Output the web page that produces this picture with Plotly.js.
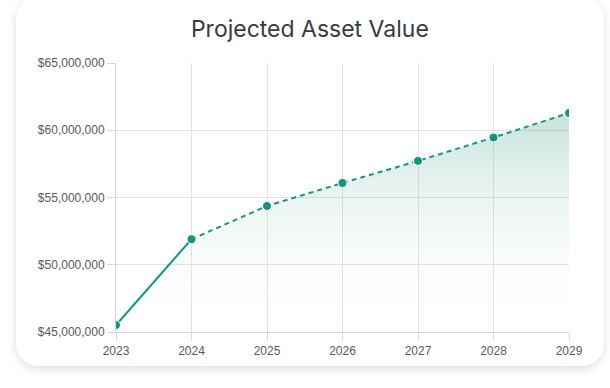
<!DOCTYPE html>
<html>
<head>
<meta charset="utf-8">
<script src="https://cdn.plot.ly/plotly-3.0.1.min.js"></script>
<style>
  html, body { margin:0; padding:0; background:#ffffff; width:610px; height:388px; overflow:hidden; }
  #card { position:absolute; left:16px; top:-4px; width:588px; height:370px; background:#fff;
          border-radius:22px; box-shadow:0 3px 10px rgba(0,0,0,0.13); }
  #chart { position:absolute; left:0; top:0; width:610px; height:388px; }
</style>
</head>
<body>
<div id="card"></div>
<div id="chart"></div>
<script>
const years = [2023, 2024, 2025, 2026, 2027, 2028, 2029];
const values = [45520000, 51900000, 54370000, 56080000, 57720000, 59460000, 61280000];
const actualYears = years.slice(0, 2);
const actualValues = values.slice(0, 2);
const projYears = years.slice(1);
const projValues = values.slice(1);
const yTicks = [45000000, 50000000, 55000000, 60000000, 65000000];

const lineColor = '#0f987c';

const traces = [
  {
    x: years, y: values, type: 'scatter', mode: 'none',
    fill: 'tozeroy',
    fillgradient: { type: 'vertical', start: 45000000, stop: 62000000,
      colorscale: [[0, 'rgba(255,255,255,0)'], [1, 'rgba(20,135,105,0.26)']] },
    hoverinfo: 'skip', showlegend: false
  },
  {
    x: actualYears, y: actualValues, type: 'scatter', mode: 'lines+markers',
    line: { color: lineColor, width: 2 },
    marker: { color: lineColor, size: 9, line: { color: '#ffffff', width: 1 } },
    showlegend: false
  },
  {
    x: projYears, y: projValues, type: 'scatter', mode: 'lines+markers',
    line: { color: lineColor, width: 2, dash: '5px,4px' },
    marker: { color: lineColor, size: 9, line: { color: '#ffffff', width: 1 } },
    showlegend: false
  }
];

const layout = {
  width: 610, height: 388,
  paper_bgcolor: 'rgba(0,0,0,0)', plot_bgcolor: 'rgba(0,0,0,0)',
  margin: { l: 116, r: 41, t: 63, b: 56 },
  title: { text: 'Projected Asset Value', font: { family: 'Inter', size: 23, color: '#363b44' },
           x: 0.508, xanchor: 'center', y: 1 - 29/388, yanchor: 'middle', yref: 'container' },
  xaxis: {
    range: [2023, 2029], tickmode: 'array', tickvals: years, ticktext: years.map(String),
    showgrid: true, gridcolor: '#e3e3e3', gridwidth: 1,
    showline: true, linecolor: '#d6d6d6', linewidth: 1,
    ticks: 'outside', ticklen: 8, tickcolor: '#d9d9d9',
    tickfont: { family: 'Liberation Sans, Arial, sans-serif', size: 12, color: '#595959' },
    zeroline: false, fixedrange: true
  },
  yaxis: {
    range: [45000000, 65000000], tickmode: 'array', tickvals: yTicks,
    ticktext: yTicks.map(v => '$' + v.toLocaleString('en-US')),
    showgrid: true, gridcolor: '#e3e3e3', gridwidth: 1,
    showline: true, linecolor: '#d6d6d6', linewidth: 1,
    ticks: 'outside', ticklen: 8, tickcolor: '#d9d9d9',
    tickfont: { family: 'Liberation Sans, Arial, sans-serif', size: 12, color: '#595959' },
    zeroline: false, fixedrange: true
  },
  hovermode: false
};

Plotly.newPlot('chart', traces, layout, { displayModeBar: false, staticPlot: true });
</script>
</body>
</html>
